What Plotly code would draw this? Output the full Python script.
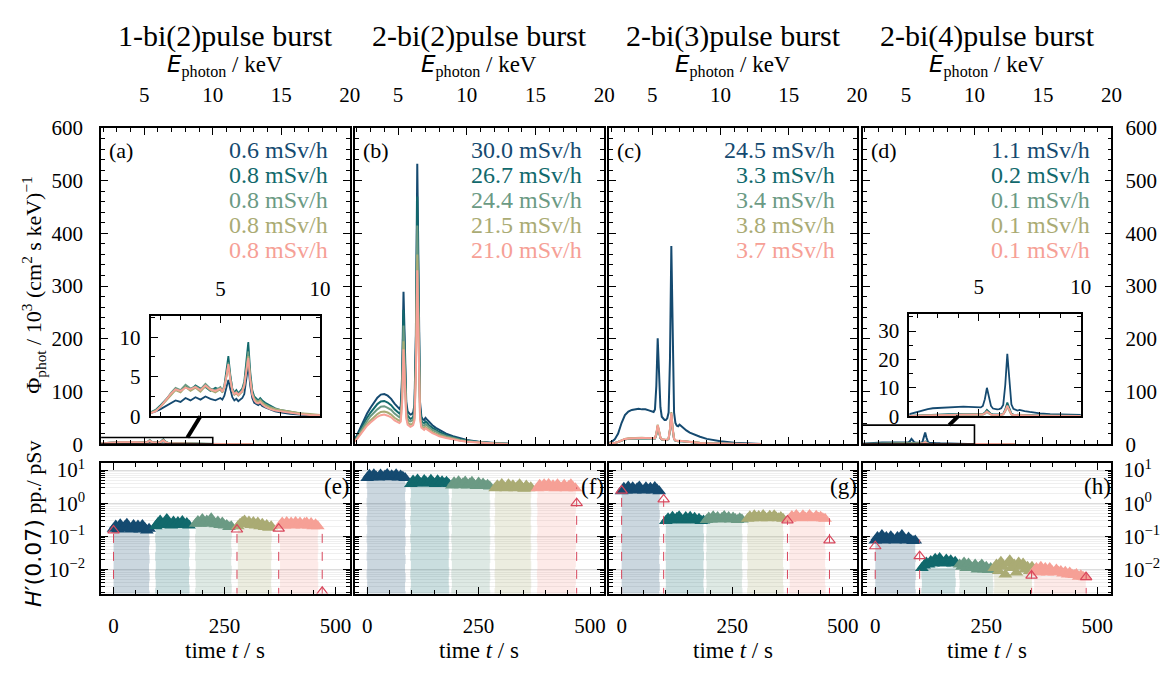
import plotly.graph_objects as go

# The page body adds an 8 px margin, so the figure is drawn 8 px smaller and
# every target pixel position below is shifted by OFF.
OFF = 8
W, H = 1170 - OFF, 674 - OFF
FONT = "Liberation Serif"
COLORS = ["#154a70", "#11696c", "#6b9a84", "#aaab74", "#f6a096"]
RED = "#d8475c"

# ---------------- data: spectra (top row) ----------------
E_KEV = [1.5, 1.75, 2.0, 2.25, 2.5, 2.75, 3.0, 3.25, 3.5, 3.75, 4.0, 4.25, 4.5, 4.75, 5.0,
         5.1, 5.2, 5.3, 5.4, 5.5, 5.6, 5.7, 5.8, 5.9, 6.0, 6.1, 6.2, 6.3, 6.4, 6.5, 6.6, 6.7,
         6.8, 6.9, 7.0, 7.1, 7.25, 7.5, 7.75, 8.0, 8.5, 9.0, 9.5, 10.0, 11.0, 12.0, 13.0]

TITLES = ["1-bi(2)pulse burst", "2-bi(2)pulse burst", "2-bi(3)pulse burst", "2-bi(4)pulse burst"]
DOSE_A = ["0.6 mSv/h", "0.8 mSv/h", "0.8 mSv/h", "0.8 mSv/h", "0.8 mSv/h"]
DOSE_B = ["30.0 mSv/h", "26.7 mSv/h", "24.4 mSv/h", "21.5 mSv/h", "21.0 mSv/h"]
DOSE_C = ["24.5 mSv/h", "3.3 mSv/h", "3.4 mSv/h", "3.8 mSv/h", "3.7 mSv/h"]
DOSE_D = ["1.1 mSv/h", "0.2 mSv/h", "0.1 mSv/h", "0.1 mSv/h", "0.1 mSv/h"]

a_navy = [0.4, 0.6, 0.9, 1.3, 1.6, 2.0, 1.8, 2.3, 2.0, 2.4, 2.1, 2.5, 2.2, 2.0, 2.3, 2.1, 2.6, 3.5, 4.6, 3.4, 2.4, 2.0, 2.2, 1.9, 2.1, 2.3, 2.8, 4.6, 6.5, 3.8, 2.3, 1.7, 1.5, 1.4, 1.6, 1.3, 1.1, 0.8, 0.6, 0.5, 0.3, 0.2, 0.1, 0.1, 0.05, 0.02, 0]
a_teal = [0.5, 0.8, 1.4, 2.1, 2.8, 3.4, 3.1, 3.8, 3.3, 3.9, 3.5, 3.7, 3.2, 3.6, 3.3, 3.1, 3.9, 5.5, 7.6, 5.2, 3.5, 3.0, 3.3, 2.9, 3.2, 3.5, 4.4, 7.0, 9.4, 5.6, 3.3, 2.5, 2.2, 2.0, 2.3, 2.0, 1.7, 1.3, 1.0, 0.8, 0.55, 0.35, 0.2, 0.15, 0.08, 0.03, 0]
a_sage = [0.5, 0.7, 1.3, 2.0, 2.9, 3.6, 3.3, 4.0, 3.5, 3.8, 3.4, 4.1, 3.5, 3.3, 3.7, 3.2, 3.8, 5.0, 6.8, 4.8, 3.4, 2.9, 3.1, 2.8, 3.0, 3.3, 4.1, 6.2, 8.2, 5.0, 3.0, 2.3, 2.0, 1.9, 2.1, 1.8, 1.5, 1.2, 0.9, 0.7, 0.5, 0.3, 0.2, 0.1, 0.06, 0.02, 0]
a_olive = [0.4, 0.7, 1.2, 1.9, 2.7, 3.3, 3.0, 3.7, 3.2, 3.6, 3.1, 3.8, 3.3, 3.0, 3.4, 3.0, 3.6, 4.8, 6.4, 4.5, 3.2, 2.7, 2.9, 2.6, 2.8, 3.1, 3.8, 5.9, 7.6, 4.7, 2.8, 2.2, 1.9, 1.8, 2.0, 1.7, 1.4, 1.1, 0.9, 0.8, 0.6, 0.4, 0.3, 0.15, 0.08, 0.03, 0]
a_salmon = [0.4, 0.6, 1.2, 2.0, 2.8, 3.4, 3.2, 3.6, 3.4, 3.7, 3.3, 3.9, 3.4, 3.2, 3.5, 3.1, 3.7, 5.0, 6.6, 4.6, 3.3, 2.8, 3.0, 2.7, 2.9, 3.2, 3.9, 6.0, 7.4, 4.5, 2.7, 2.0, 1.7, 1.6, 1.8, 1.5, 1.2, 0.9, 0.7, 0.6, 0.4, 0.25, 0.15, 0.1, 0.05, 0.02, 0]

b_navy = [2, 6, 16, 30, 45, 58, 69, 79, 88, 94, 95, 92, 86, 77, 69, 67, 72, 130, 289, 180, 80, 62, 58, 56, 57, 60, 75, 210, 532, 230, 80, 52, 47, 46, 50, 47, 42, 36, 31, 27, 20, 15, 11, 8, 4, 2, 0.8]
b_teal = [2, 5, 14, 26, 39, 50, 60, 68, 76, 81, 82, 79, 74, 66, 60, 58, 62, 113, 255, 160, 70, 54, 50, 48, 49, 52, 65, 185, 470, 200, 70, 45, 41, 40, 43, 41, 36, 31, 27, 23, 17, 13, 9.5, 7, 3.5, 1.7, 0.7]
b_sage = [1.5, 4, 12, 23, 34, 44, 53, 60, 66, 71, 72, 69, 65, 58, 53, 51, 55, 100, 225, 140, 62, 48, 44, 43, 44, 46, 58, 165, 415, 180, 62, 40, 36, 35, 38, 36, 32, 27, 24, 20, 15, 11, 8.5, 6, 3, 1.5, 0.6]
b_olive = [1.3, 3.5, 10, 20, 29, 38, 45, 51, 57, 61, 62, 60, 56, 50, 46, 44, 47, 86, 195, 122, 54, 41, 38, 37, 38, 40, 50, 142, 360, 155, 53, 34, 31, 30, 33, 31, 27, 23, 20, 17, 13, 9.5, 7, 5, 2.5, 1.2, 0.5]
b_salmon = [1.2, 3, 9, 18, 27, 35, 41, 47, 52, 55, 56, 54, 51, 45, 41, 40, 43, 78, 180, 112, 49, 37, 34, 33, 34, 36, 45, 130, 330, 142, 48, 31, 28, 27, 30, 28, 25, 21, 18, 15, 11.5, 8.5, 6.3, 4.5, 2.2, 1.1, 0.5]

c_navy = [0.5, 1.5, 4, 9, 20, 40, 55, 62, 65, 66, 67, 66, 66, 64, 62, 61, 66, 110, 201, 140, 70, 52, 48, 46, 46, 49, 60, 160, 376, 170, 60, 40, 35, 34, 37, 35, 31, 26, 22, 19, 14, 10, 7.5, 5.5, 2.8, 1.3, 0.5]
c_teal = [0.2, 0.5, 1, 2, 4, 7, 9, 10, 10.5, 10.8, 11, 10.8, 10.7, 10.4, 10, 9.8, 10.5, 18, 33, 23, 11.5, 8.5, 7.8, 7.5, 7.5, 8, 10, 26, 55, 27, 9.5, 6.5, 5.7, 5.5, 6, 5.7, 5, 4.2, 3.5, 3, 2.2, 1.6, 1.2, 0.9, 0.45, 0.2, 0.1]
c_sage = [0.2, 0.5, 1, 2, 4, 7.2, 9.2, 10.2, 10.7, 11, 11.2, 11, 10.9, 10.6, 10.2, 10, 10.7, 18.5, 34, 23.5, 11.8, 8.7, 8, 7.7, 7.7, 8.2, 10.2, 27, 56, 27.5, 9.7, 6.6, 5.8, 5.6, 6.1, 5.8, 5.1, 4.3, 3.6, 3.1, 2.3, 1.6, 1.2, 0.9, 0.45, 0.2, 0.1]
c_olive = [0.25, 0.55, 1.1, 2.2, 4.4, 7.8, 10, 11, 11.6, 12, 12.1, 12, 11.8, 11.5, 11.1, 10.9, 11.6, 20, 37, 25.5, 12.8, 9.4, 8.6, 8.3, 8.3, 8.9, 11, 29, 61, 30, 10.5, 7.2, 6.3, 6.1, 6.6, 6.3, 5.5, 4.6, 3.9, 3.3, 2.5, 1.8, 1.3, 1, 0.5, 0.22, 0.1]
c_salmon = [0.25, 0.55, 1.1, 2.1, 4.3, 7.6, 9.8, 10.8, 11.3, 11.7, 11.8, 11.7, 11.5, 11.2, 10.8, 10.6, 11.3, 19.5, 36, 25, 12.5, 9.2, 8.4, 8.1, 8.1, 8.7, 10.7, 28, 59, 29, 10.2, 7, 6.1, 5.9, 6.4, 6.1, 5.4, 4.5, 3.8, 3.2, 2.4, 1.7, 1.3, 1, 0.5, 0.22, 0.1]

d_navy = [0.5, 1.0, 1.6, 2.1, 2.5, 2.8, 2.9, 3.1, 3.0, 3.3, 3.2, 3.4, 3.3, 3.2, 3.3, 3.1, 3.6, 6.0, 10.0, 7.0, 3.6, 2.7, 2.5, 2.4, 2.5, 2.8, 4.0, 11.0, 22.0, 12.0, 4.2, 2.6, 2.2, 2.0, 2.2, 2.0, 1.8, 1.5, 1.2, 1.0, 0.7, 0.5, 0.3, 0.2, 0.1, 0.05, 0.02]
d_teal = [0.1, 0.2, 0.35, 0.5, 0.6, 0.65, 0.7, 0.7, 0.75, 0.75, 0.8, 0.8, 0.75, 0.75, 0.7, 0.7, 0.8, 1.3, 2.2, 1.5, 0.8, 0.6, 0.55, 0.5, 0.55, 0.6, 0.9, 2.4, 4.8, 2.6, 0.9, 0.55, 0.5, 0.45, 0.5, 0.45, 0.4, 0.35, 0.3, 0.25, 0.15, 0.1, 0.07, 0.05, 0.02, 0.01, 0]
d_sage = [0.1, 0.15, 0.25, 0.35, 0.4, 0.45, 0.5, 0.5, 0.5, 0.55, 0.55, 0.55, 0.5, 0.5, 0.5, 0.5, 0.6, 0.9, 1.5, 1.0, 0.55, 0.4, 0.4, 0.35, 0.4, 0.45, 0.65, 1.7, 3.3, 1.8, 0.6, 0.4, 0.35, 0.3, 0.35, 0.3, 0.28, 0.24, 0.2, 0.17, 0.1, 0.07, 0.05, 0.03, 0.01, 0, 0]
d_olive = [0.1, 0.15, 0.25, 0.35, 0.42, 0.47, 0.5, 0.52, 0.52, 0.55, 0.55, 0.56, 0.52, 0.52, 0.5, 0.5, 0.6, 0.95, 1.6, 1.05, 0.56, 0.42, 0.4, 0.36, 0.4, 0.46, 0.66, 1.8, 3.5, 1.9, 0.62, 0.4, 0.36, 0.32, 0.36, 0.32, 0.28, 0.24, 0.2, 0.17, 0.1, 0.07, 0.05, 0.03, 0.01, 0, 0]
d_salmon = [0.1, 0.15, 0.25, 0.36, 0.43, 0.48, 0.52, 0.53, 0.54, 0.56, 0.56, 0.57, 0.54, 0.53, 0.52, 0.51, 0.62, 1.0, 1.7, 1.1, 0.58, 0.43, 0.41, 0.37, 0.41, 0.47, 0.7, 1.9, 3.7, 2.0, 0.64, 0.41, 0.37, 0.33, 0.37, 0.33, 0.29, 0.25, 0.21, 0.18, 0.1, 0.07, 0.05, 0.03, 0.01, 0, 0]

# ---------------- data: dose per pulse vs time (bottom row) ----------------
DT = 5  # sample interval / s
e_start = [0, 95, 185, 280, 375]
e_navy = [0.17, 0.21, 0.16, 0.23, 0.17, 0.2, 0.24, 0.18, 0.16, 0.22, 0.17, 0.21, 0.16, 0.22, 0.18, 0.15, 0.17]
e_teal = [0.2, 0.25, 0.3, 0.22, 0.26, 0.33, 0.24, 0.21, 0.28, 0.22, 0.27, 0.23, 0.29, 0.22, 0.25, 0.21]
e_sage = [0.24, 0.29, 0.24, 0.33, 0.26, 0.3, 0.24, 0.35, 0.27, 0.23, 0.28, 0.22, 0.26, 0.21, 0.22, 0.19, 0.2]
e_olive = [0.2, 0.24, 0.27, 0.3, 0.23, 0.28, 0.22, 0.27, 0.21, 0.26, 0.2, 0.24, 0.19, 0.22, 0.18, 0.2]
e_salmon = [0.21, 0.26, 0.21, 0.27, 0.22, 0.26, 0.21, 0.27, 0.22, 0.26, 0.21, 0.25, 0.26, 0.21, 0.25, 0.2, 0.23, 0.2]
e_red_t = [0, 278, 372, 470]
e_red_v = [0.15, 0.16, 0.17, 0.0021]
e_red_top = [0.15, 0.16, 0.17, 0.21]

f_start = [0, 98, 190, 287, 382]
f_navy = [5.8, 7.2, 6.1, 7.5, 6.4, 6.0, 7.3, 6.2, 6.8, 7.6, 6.1, 7.0, 6.3, 7.4, 6.0, 6.9, 6.3, 5.8]
f_teal = [3.8, 4.8, 4.0, 5.2, 4.2, 3.9, 5.0, 4.3, 4.0, 5.1, 4.2, 3.8, 4.9, 4.0, 4.6, 3.9, 4.4, 3.8]
f_sage = [3.4, 4.3, 3.6, 4.6, 3.5, 4.0, 4.5, 3.4, 3.9, 4.4, 3.6, 3.3, 4.2, 3.4, 3.9, 3.3, 3.6, 3.2]
f_olive = [2.8, 3.5, 2.9, 3.8, 3.1, 2.8, 3.7, 3.0, 3.5, 2.8, 3.2, 3.7, 3.0, 2.7, 3.4, 2.8, 3.0]
f_salmon = [2.8, 3.6, 2.9, 3.7, 3.1, 3.8, 2.9, 3.5, 2.8, 3.7, 3.1, 2.9, 3.6, 2.8, 3.3, 3.7, 3.0, 2.8]
f_red_t = [470]
f_red_v = [1.0]
f_red_top = [3.0]

g_start = [0, 100, 192, 285, 380]
g_navy = [2.3, 2.9, 2.4, 3.2, 2.5, 3.0, 2.4, 2.8, 3.2, 2.5, 2.4, 3.0, 2.5, 2.9, 2.4, 3.1, 2.6, 2.3]
g_teal = [0.29, 0.35, 0.3, 0.39, 0.31, 0.36, 0.4, 0.32, 0.3, 0.38, 0.32, 0.39, 0.31, 0.36, 0.3, 0.34, 0.29, 0.3]
g_sage = [0.31, 0.37, 0.32, 0.4, 0.33, 0.38, 0.32, 0.36, 0.41, 0.33, 0.38, 0.32, 0.37, 0.33, 0.31, 0.35, 0.32]
g_olive = [0.34, 0.4, 0.35, 0.43, 0.36, 0.41, 0.35, 0.44, 0.37, 0.35, 0.42, 0.36, 0.43, 0.37, 0.35, 0.38, 0.34]
g_salmon = [0.34, 0.41, 0.36, 0.44, 0.37, 0.35, 0.43, 0.37, 0.36, 0.44, 0.37, 0.35, 0.42, 0.36, 0.39, 0.35, 0.34]
g_red_t = [0, 95, 375, 470]
g_red_v = [2.4, 1.3, 0.3, 0.075]
g_red_top = [2.4, 1.3, 0.3, 0.35]

h_start = [0, 105, 190, 268, 358]
h_navy = [0.075, 0.095, 0.08, 0.11, 0.075, 0.095, 0.078, 0.1, 0.082, 0.075, 0.095, 0.08, 0.11, 0.082, 0.075, 0.092, 0.078, 0.072, 0.075]
h_teal = [0.011, 0.013, 0.016, 0.014, 0.018, 0.015, 0.021, 0.016, 0.022, 0.017, 0.015, 0.02, 0.016, 0.019, 0.015, 0.017]
h_sage = [0.014, 0.012, 0.016, 0.011, 0.015, 0.012, 0.011, 0.014, 0.01, 0.012, 0.014, 0.01, 0.012, 0.0095, 0.011, 0.0095]
h_olive = [0.011, 0.014, 0.009, 0.017, 0.012, 0.007, 0.015, 0.019, 0.011, 0.014, 0.008, 0.016, 0.012, 0.015, 0.01, 0.012, 0.009, 0.012]
h_salmon = [0.009, 0.011, 0.008, 0.012, 0.009, 0.011, 0.008, 0.011, 0.009, 0.008, 0.01, 0.0085, 0.009, 0.0075, 0.0085, 0.007, 0.008, 0.007, 0.0068, 0.0072, 0.006, 0.0066, 0.006, 0.0058]
h_red_t = [0, 100, 352, 475]
h_red_v = [0.05, 0.025, 0.0065, 0.0058]
h_red_top = [0.05, 0.08, 0.012, 0.008]

# ---------------- layout geometry (target pixels in the 1170x674 picture) ----------------
PANEL_X = [(102, 353), (358, 610), (615, 865), (871, 1122)]
TOP_Y = (120, 448)
BOT_Y = (468, 603)
INSET_A = ((152, 323), (315, 419))
INSET_D = ((918, 1091), (313, 419))
XR_TOP = [1.85, 20]
YR_TOP = [0, 600]
XR_BOT = [-28, 532]
YR_BOT = [-2.73, 1.2]
XR_INA = [1.5, 10]
XR_IND = [1.6, 10]
YR_INA = [0, 12.7]
YR_IND = [0, 36]


def fx(x):
    return (x - OFF) / W


def fy(y):
    return 1 - (y - OFF) / H


def domx(p):
    return [fx(p[0]), fx(p[1])]


def domy(p):
    return [fy(p[1]), fy(p[0])]


def to_paper(v, rng, dom):
    return dom[0] + (v - rng[0]) / (rng[1] - rng[0]) * (dom[1] - dom[0])


fig = go.Figure()

spectra = [[a_navy, a_teal, a_sage, a_olive, a_salmon],
           [b_navy, b_teal, b_sage, b_olive, b_salmon],
           [c_navy, c_teal, c_sage, c_olive, c_salmon],
           [d_navy, d_teal, d_sage, d_olive, d_salmon]]
doses = [DOSE_A, DOSE_B, DOSE_C, DOSE_D]

for i, panel in enumerate(spectra):
    for j, ser in enumerate(panel):
        fig.add_trace(go.Scatter(x=E_KEV, y=ser, xaxis=f"x{i+1}", yaxis=f"y{i+1}", mode="lines",
                                 line=dict(color=COLORS[j], width=2), hoverinfo="skip"))
for ax, panel in ((9, spectra[0]), (10, spectra[3])):
    for j, ser in enumerate(panel):
        fig.add_trace(go.Scatter(x=E_KEV, y=ser, xaxis=f"x{ax}", yaxis=f"y{ax}", mode="lines",
                                 line=dict(color=COLORS[j], width=1.8), hoverinfo="skip"))

bottom = [
    (e_start, [e_navy, e_teal, e_sage, e_olive, e_salmon], e_red_t, e_red_v, e_red_top),
    (f_start, [f_navy, f_teal, f_sage, f_olive, f_salmon], f_red_t, f_red_v, f_red_top),
    (g_start, [g_navy, g_teal, g_sage, g_olive, g_salmon], g_red_t, g_red_v, g_red_top),
    (h_start, [h_navy, h_teal, h_sage, h_olive, h_salmon], h_red_t, h_red_v, h_red_top),
]
YBOT = 10 ** (YR_BOT[0] - 0.1)

for k, (starts, segs, rt, rv, rtop) in enumerate(bottom):
    xa, ya = f"x{k+5}", f"y{k+5}"
    for j, vals in enumerate(segs):
        t = [starts[j] + DT * n for n in range(len(vals))]
        lo = min(vals)
        fig.add_trace(go.Scatter(x=[t[0], t[0], t[-1], t[-1], t[0]], y=[YBOT, lo, lo, YBOT, YBOT],
                                 xaxis=xa, yaxis=ya, mode="lines", fill="toself",
                                 fillcolor=COLORS[j], opacity=0.22,
                                 line=dict(color=COLORS[j], width=1, dash="dash"), hoverinfo="skip"))
    for j, vals in enumerate(segs):
        t = [starts[j] + DT * n for n in range(len(vals))]
        fig.add_trace(go.Scatter(x=t, y=vals, xaxis=xa, yaxis=ya, mode="markers",
                                 marker=dict(symbol="triangle-up", size=12, color=COLORS[j], line=dict(width=0)),
                                 hoverinfo="skip"))
    sx, sy = [], []
    for tt, top in zip(rt, rtop):
        sx += [tt, tt, None]
        sy += [YBOT, top, None]
    fig.add_trace(go.Scatter(x=sx, y=sy, xaxis=xa, yaxis=ya, mode="lines",
                             line=dict(color=RED, width=1, dash="dash"), hoverinfo="skip"))
    fig.add_trace(go.Scatter(x=rt, y=rv, xaxis=xa, yaxis=ya, mode="markers",
                             marker=dict(symbol="triangle-up-open", size=10, color=RED, line=dict(width=1.2)),
                             hoverinfo="skip"))

TICKFONT = dict(family=FONT, size=21, color="black")
base = dict(showline=True, linecolor="black", linewidth=1.8, ticks="inside", mirror="allticks",
            tickcolor="black", ticklen=7, tickwidth=1.3, zeroline=False, showgrid=False,
            tickfont=TICKFONT)

layout = dict(width=W, height=H, margin=dict(l=0, r=0, t=0, b=0), paper_bgcolor="white",
              plot_bgcolor="white", showlegend=False)

for i in range(4):
    n = "" if i == 0 else str(i + 1)
    layout[f"xaxis{n}"] = dict(base, domain=domx(PANEL_X[i]), range=XR_TOP, side="top",
                               anchor=f"y{i+1}", tickvals=[5, 10, 15, 20], ticklabelstandoff=16,
                               minor=dict(ticks="inside", ticklen=4, tickwidth=1, tickcolor="black", dtick=1))
    ydict = dict(base, domain=domy(TOP_Y), range=YR_TOP, anchor=f"x{i+1}", dtick=100,
                 minor=dict(ticks="inside", ticklen=4, tickwidth=1, tickcolor="black", dtick=20))
    if i == 0:
        ydict.update(side="left", ticklabelstandoff=12)
    elif i == 3:
        ydict.update(side="right", ticklabelstandoff=8)
    else:
        ydict.update(showticklabels=False)
    layout[f"yaxis{n}"] = ydict

minor_log = [m * 10 ** ex for ex in range(-3, 2) for m in range(2, 10)]
for k in range(4):
    a = k + 5
    layout[f"xaxis{a}"] = dict(base, domain=domx(PANEL_X[k]), range=XR_BOT, side="bottom",
                               anchor=f"y{a}", tickvals=[0, 250, 500], ticklabelstandoff=12,
                               minor=dict(ticks="inside", ticklen=4, tickwidth=1, tickcolor="black", dtick=50))
    ydict = dict(base, domain=domy(BOT_Y), type="log", range=YR_BOT, anchor=f"x{a}",
                 tickvals=[0.01, 0.1, 1, 10],
                 ticktext=["10<sup>−2</sup>", "10<sup>−1</sup>", "10<sup>0</sup>", "10<sup>1</sup>"],
                 showgrid=True, gridcolor="#dcdcdc", gridwidth=1,
                 minor=dict(ticks="inside", ticklen=4, tickwidth=1, tickcolor="black",
                            tickvals=minor_log, showgrid=True, gridcolor="#efefef", gridwidth=1))
    if k == 0:
        ydict.update(side="left", ticklabelstandoff=10)
    elif k == 3:
        ydict.update(side="right", ticklabelstandoff=6)
    else:
        ydict.update(showticklabels=False)
    layout[f"yaxis{a}"] = ydict

for a, ins, xr, yr, ytv, ymin in ((9, INSET_A, XR_INA, YR_INA, [0, 5, 10], 2.5),
                                  (10, INSET_D, XR_IND, YR_IND, [0, 10, 20, 30], 5)):
    layout[f"xaxis{a}"] = dict(base, domain=domx(ins[0]), range=xr, side="top", anchor=f"y{a}",
                               tickvals=[5, 10], ticklabelstandoff=10,
                               minor=dict(ticks="inside", ticklen=4, tickwidth=1, tickcolor="black", dtick=1))
    layout[f"yaxis{a}"] = dict(base, domain=domy(ins[1]), range=yr, side="left", anchor=f"x{a}",
                               tickvals=ytv, ticklabelstandoff=4,
                               minor=dict(ticks="inside", ticklen=4, tickwidth=1, tickcolor="black", dtick=ymin))

fig.update_layout(**layout)

shapes = []
for ax, ins, yr_in, xr_in in ((1, INSET_A, YR_INA, XR_INA), (4, INSET_D, YR_IND, XR_IND)):
    xr_name = "x" if ax == 1 else f"x{ax}"
    yr_name = "y" if ax == 1 else f"y{ax}"
    shapes.append(dict(type="rect", xref=xr_name, yref=yr_name,
                       x0=xr_in[0], x1=xr_in[1], y0=yr_in[0], y1=yr_in[1],
                       line=dict(color="black", width=1.6), layer="above"))
    x0 = to_paper(8.15, XR_TOP, domx(PANEL_X[ax - 1]))
    y0 = to_paper(yr_in[1], YR_TOP, domy(TOP_Y))
    x1 = to_paper(4.0, xr_in, domx(ins[0]))
    y1 = domy(ins[1])[0]
    shapes.append(dict(type="line", xref="paper", yref="paper", x0=x0, y0=y0, x1=x1, y1=y1,
                       line=dict(color="black", width=4)))
fig.update_layout(shapes=shapes)

ann = []


def A(text, x, y, size, xanchor="center", yanchor="middle", color="black", **kw):
    d = dict(text=text, x=fx(x), y=fy(y), xref="paper", yref="paper", showarrow=False,
             xanchor=xanchor, yanchor=yanchor, font=dict(family=FONT, size=size, color=color))
    d.update(kw)
    ann.append(d)


for i in range(4):
    cx = (PANEL_X[i][0] + PANEL_X[i][1]) / 2
    A(TITLES[i], cx, 25, 30)
    A('<span style="font-family:DejaVu Sans"><i>E</i></span><sub>photon</sub> / keV', cx, 56, 23)
    A(f"({'abcd'[i]})", PANEL_X[i][0] + 6, 143, 22, xanchor="left")
    for j, txt in enumerate(doses[i]):
        A(txt, PANEL_X[i][1] - 20, 143 + 26 * j, 24, xanchor="right", color=COLORS[j])
    A(f"({'efgh'[i]})", PANEL_X[i][1] + 2, 492, 23, xanchor="right")
    A("time <i>t</i> / s", cx, 662, 23)

A("Φ<sub>phot</sub> / 10<sup>3</sup> (cm<sup>2</sup> s keV)<sup>−1</sup>", 33, 283, 22, textangle=-90)
A('<span style="font-family:DejaVu Sans"><i>H</i>′(0.07)</span> pp./ pSv', 33, 530, 22, textangle=-90)

fig.update_layout(annotations=ann)
fig.write_html("out.html")
